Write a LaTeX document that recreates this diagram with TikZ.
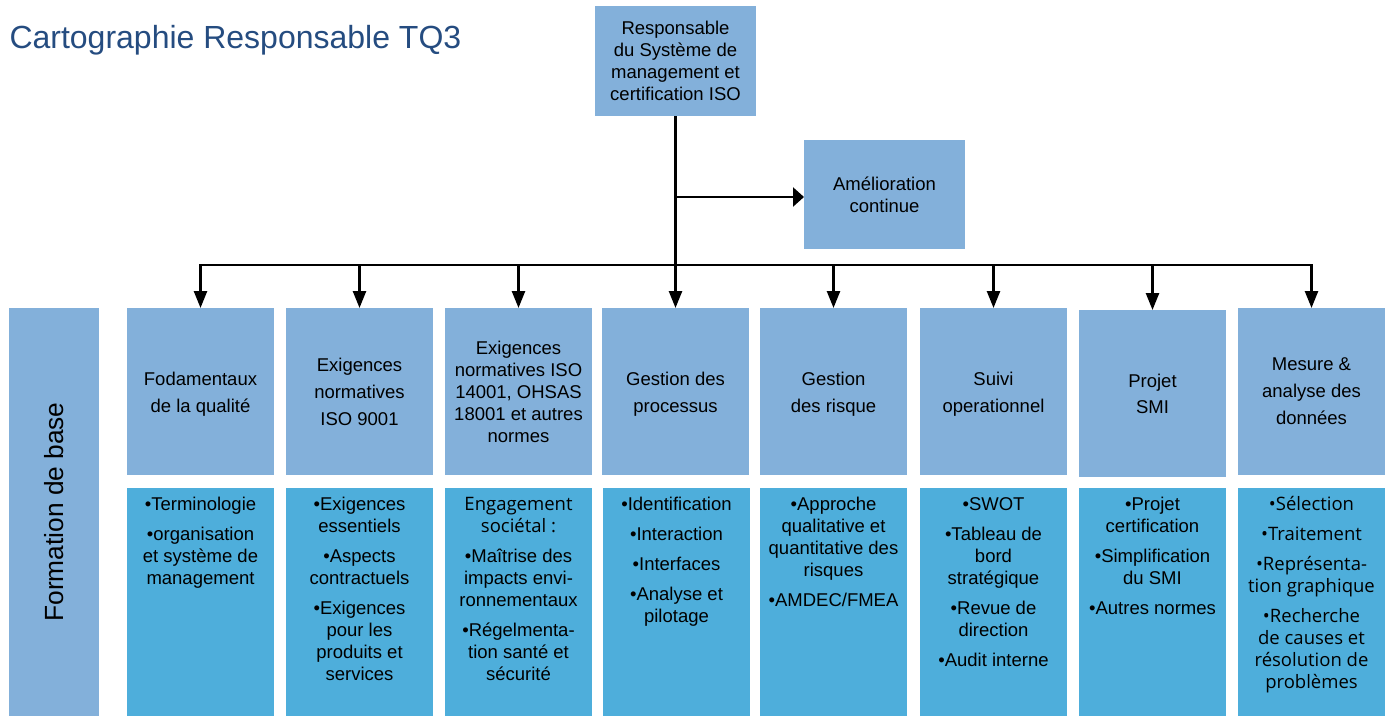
\documentclass[tikz,border=0pt]{standalone}
\usepackage{fontspec}
\setmainfont{Liberation Sans}
\newfontfamily\osans{Open Sans}
\usetikzlibrary{arrows.meta}
\definecolor{boxlight}{HTML}{83B0DA}
\definecolor{boxdark}{HTML}{4EAEDB}
\definecolor{titleblue}{HTML}{254C80}
\newcommand{\lowr}{\rule{0pt}{19.5pt}}
\begin{document}
\begin{tikzpicture}[x=1pt,y=-1pt,
  every node/.style={inner sep=0pt, outer sep=0pt},
  lbox/.style={fill=boxlight, anchor=north west, minimum width=147pt, minimum height=167pt, align=center, font=\fontsize{18.5}{27}\selectfont},
  dbox/.style={fill=boxdark, anchor=north west, minimum width=147pt, minimum height=228pt},
  btext/.style={anchor=north, align=center, font=\fontsize{18.5}{22}\selectfont, yshift=-6.6pt},
  conn/.style={line width=2.5pt, draw=black},
  downarr/.style={conn, -{Triangle[length=17pt,width=13pt]}},
  rightarr/.style={conn, -{Triangle[length=11pt,width=19pt]}},
]
\useasboundingbox (0,0) rectangle (1385,716);

% title
\node[font=\fontsize{32}{38}\selectfont, text=titleblue, anchor=base west] (title) at (9.5,48) {Cartographie Responsable TQ3};

% top boxes
\node[lbox, minimum width=161pt, minimum height=110pt, font=\fontsize{18.5}{22}\selectfont] (resp) at (595,6) {Responsable\\du Système de\\management et\\certification ISO};
\node[lbox, minimum width=161pt, minimum height=109pt, font=\fontsize{18.5}{22}\selectfont] (amel) at (804,140) {Amélioration\\continue};

% formation de base
\node[fill=boxlight, rotate=90, minimum width=408pt, minimum height=90pt, font=\fontsize{26.3}{30}\selectfont] (form) at (54,512) {Formation de base};

% category boxes
\node[lbox] (t1) at (127,308) {\lowr Fodamentaux\\de la qualité};
\node[lbox] (t2) at (286,308) {Exigences\\normatives\\ISO 9001};
\node[lbox, font=\fontsize{18.5}{22}\selectfont] (t3) at (445,308) {Exigences\\normatives ISO\\14001, OHSAS\\18001 et autres\\normes};
\node[lbox] (t4) at (602,308) {\lowr Gestion des\\processus};
\node[lbox] (t5) at (760,308) {\lowr Gestion\\des risque};
\node[lbox] (t6) at (920,308) {\lowr Suivi\\operationnel};
\node[lbox, font=\fontsize{18.5}{26}\selectfont] (t7) at (1079,310) {Projet\\SMI};
\node[lbox] (t8) at (1238,308) {Mesure \&\\analyse des\\données};

% detail boxes
\node[dbox] (d1) at (127,488) {};
\node[dbox] (d2) at (286,488) {};
\node[dbox] (d3) at (445,488) {};
\node[dbox] (d4) at (603,488) {};
\node[dbox] (d5) at (760,488) {};
\node[dbox] (d6) at (920,488) {};
\node[dbox] (d7) at (1079,488) {};
\node[dbox] (d8) at (1238,488) {};

\node[btext] (b1) at (d1.north) {\strut•Terminologie\\[8pt]•organisation\\et système de\\management};
\node[btext] (b2) at (d2.north) {\strut•Exigences\\essentiels\\[8pt]•Aspects\\contractuels\\[8pt]•Exigences\\pour les\\produits et\\services};
\node[btext] (b3) at (d3.north) {\strut{\osans Engagement}\\{\osans sociétal :}\\[8pt]•Maîtrise des\\impacts envi-\\ronnementaux\\[8pt]•Régelmenta-\\tion santé et\\sécurité};
\node[btext] (b4) at (d4.north) {\strut•Identification\\[8pt]•Interaction\\[8pt]•Interfaces\\[8pt]•Analyse et\\pilotage};
\node[btext] (b5) at (d5.north) {\strut•Approche\\qualitative et\\quantitative des\\risques\\[8pt]•AMDEC/FMEA};
\node[btext] (b6) at (d6.north) {\strut•SWOT\\[8pt]•Tableau de\\bord\\stratégique\\[8pt]•Revue de\\direction\\[8pt]•Audit interne};
\node[btext] (b7) at (d7.north) {\strut•Projet\\certification\\[8pt]•Simplification\\du SMI\\[8pt]•Autres normes};
\node[btext, font=\osans\fontsize{18.5}{22}\selectfont] (b8) at (d8.north) {\strut•Sélection\\[8pt]•Traitement\\[8pt]•Représenta-\\tion graphique\\[8pt]•Recherche\\de causes et\\résolution de\\problèmes};

% connectors
\coordinate (busy) at (0,265);
\coordinate (bry) at (0,197);
\draw[conn] (resp.south) -- (resp.south |- busy);
\draw[conn, line cap=rect] (t1.north |- busy) -- (t8.north |- busy);
\foreach \i in {1,...,8}{
  \draw[downarr] (t\i.north |- busy) -- (t\i.north);
}
\draw[rightarr] (resp.south |- bry) -- (amel.west |- bry);
\end{tikzpicture}
\end{document}
